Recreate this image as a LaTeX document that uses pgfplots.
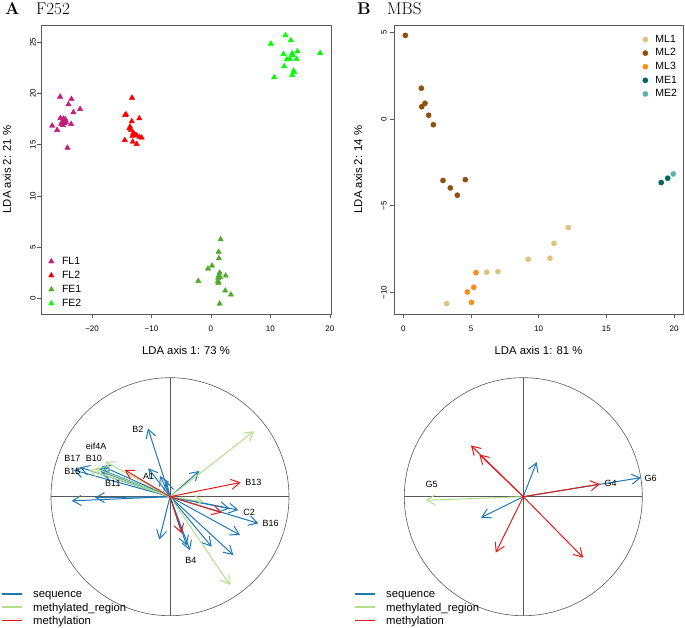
\documentclass[border=0pt]{standalone}
\usepackage{fontspec}
\usepackage{pgfplots}
\pgfplotsset{compat=1.18}
\usetikzlibrary{arrows.meta}
\newfontfamily\arial{Liberation Sans}
\definecolor{seqc}{HTML}{1F78B4}
\definecolor{regc}{HTML}{B2DF8A}
\definecolor{methc}{HTML}{E31A1C}
\definecolor{FLa}{HTML}{C51B7D}
\definecolor{FLb}{HTML}{FF0000}
\definecolor{FEa}{HTML}{4DAC26}
\definecolor{FEb}{HTML}{00FF00}
\definecolor{MLa}{HTML}{DFC27D}
\definecolor{MLb}{HTML}{8C510A}
\definecolor{MLc}{HTML}{FA8C1E}
\definecolor{MEa}{HTML}{01665E}
\definecolor{MEb}{HTML}{5AB4AC}
\tikzset{lab/.style={font=\arial\fontsize{9}{10}\selectfont, inner sep=0pt},
  legtxt/.style={font=\arial\fontsize{11.3}{13}\selectfont, inner sep=0pt, anchor=base west}}
\pgfplotsset{
  rbox/.style={
    scale only axis,
    axis line style={black!65, line width=0.6pt},
    tick style={black!65, line width=0.6pt},
    tick align=outside,
    major tick length=4pt,
    xtick pos=left, ytick pos=left,
    /pgf/number format/assume math mode=true,
    xticklabel style={font=\arial\fontsize{8}{9}\selectfont, yshift=-4pt},
    yticklabel style={font=\arial\fontsize{8}{9}\selectfont, rotate=90, anchor=south},
    every axis label/.append style={font=\arial\fontsize{11.3}{13}\selectfont},
    clip=false,
    legend cell align=left,
  },
  ccirc/.style={
    scale only axis, width=238pt, height=238pt,
    xmin=-1, xmax=1, ymin=-1, ymax=1,
    axis lines=none, clip=false,
  },
  arr/.style={-{Straight Barb[length=8.5pt,width=10pt]}, line width=1pt},
}
\begin{document}
\begin{tikzpicture}
\useasboundingbox (0,0) rectangle (685pt,628pt);
% titles
\node[anchor=base west, inner sep=0pt] at (5pt,613pt) {\fontsize{17}{19}\selectfont\bfseries A};
\node[anchor=base west, inner sep=0pt] at (36pt,613pt) {\fontsize{17}{19}\selectfont F252};
\node[anchor=base west, inner sep=0pt] at (357pt,613pt) {\fontsize{17}{19}\selectfont\bfseries B};
\node[anchor=base west, inner sep=0pt] at (387pt,613pt) {\fontsize{17}{19}\selectfont MBS};

% ---------- Panel A scatter ----------
\begin{axis}[rbox, at={(41pt,314pt)}, anchor=south west, width=290pt, height=289pt,
  xmin=-28.6, xmax=20.2, ymin=-1.49, ymax=26.66,
  xtick={-20,-10,0,10,20}, xticklabels={−20,−10,0,10,20},
  ytick={0,5,10,15,20,25}, yticklabels={0,5,10,15,20,25},
  yticklabel style={inner sep=1pt},
  xlabel={LDA axis 1: 73 \%}, ylabel={LDA axis 2: 21 \%},
  xlabel style={at={(axis description cs:0.5,-0.127)}, anchor=center},
  ylabel style={at={(axis description cs:-0.118,0.5)}, anchor=center},
  legend style={at={(0.0257,0.204)}, anchor=north west, draw=none, fill=none, inner sep=0pt,
    font=\arial\fontsize{10.5}{12}\selectfont, row sep=1.5pt, column sep=7pt,
    nodes={inner sep=1pt, text height=8pt, text depth=2.5pt}},
]
\addplot[only marks, mark=triangle*, mark size=3.1pt, color=FLa] table {
x y
-25.38 19.67
-23.48 19.45
-23.98 18.93
-23.14 18.15
-22.02 18.47
-25.33 17.60
-24.82 17.53
-24.49 17.47
-25.04 17.24
-24.71 17.08
-23.53 17.01
-24.92 16.91
-26.72 16.85
-25.88 16.43
-24.15 14.70
-24.37 17.20
-25.20 17.00
};
\addlegendentry{FL1}
\addplot[only marks, mark=triangle*, mark size=3.1pt, color=FLb] table {
x y
-13.28 19.57
-14.45 17.89
-14.29 17.95
-12.05 17.56
-13.33 17.27
-13.61 16.75
-13.45 16.43
-13.06 16.16
-12.89 16.00
-12.49 15.91
-12.05 15.75
-11.65 15.68
-14.50 15.45
-13.16 15.29
-12.49 15.06
-13.22 15.87
-13.73 16.59
-12.77 15.94
};
\addlegendentry{FL2}
\addplot[only marks, mark=triangle*, mark size=3.1pt, color=FEa] table {
x y
1.63 5.78
1.29 4.55
1.34 3.93
0.17 3.21
-0.50 2.92
-2.13 1.72
1.46 2.53
1.34 2.28
1.23 2.02
1.18 1.72
2.47 2.24
2.40 0.78
3.36 0.39
1.46 -0.49
1.26 1.53
1.51 2.11
};
\addlegendentry{FE1}
\addplot[only marks, mark=triangle*, mark size=3.1pt, color=FEb] table {
x y
12.55 25.65
10.08 24.83
13.45 25.16
12.22 23.83
13.66 23.89
14.57 24.09
14.40 23.34
13.28 23.37
12.77 23.31
13.73 23.70
18.37 23.92
12.32 22.63
13.90 22.20
14.00 22.07
13.66 21.78
10.64 21.56
};
\addlegendentry{FE2}
\end{axis}

% ---------- Panel B scatter ----------
\begin{axis}[rbox, at={(394pt,314pt)}, anchor=south west, width=289pt, height=289pt,
  xmin=-0.69, xmax=20.66, ymin=-11.25, ymax=5.44,
  xtick={0,5,10,15,20}, xticklabels={0,5,10,15,20},
  ytick={-10,-5,0,5}, yticklabels={−10,−5,0,5},
  yticklabel style={inner sep=3pt},
  xlabel={LDA axis 1: 81 \%}, ylabel={LDA axis 2: 14 \%},
  xlabel style={at={(axis description cs:0.5,-0.127)}, anchor=center},
  ylabel style={at={(axis description cs:-0.1246,0.5)}, anchor=center},
  legend style={at={(0.860,0.972)}, anchor=north west, draw=none, fill=none, inner sep=0pt,
    font=\arial\fontsize{10.5}{12}\selectfont, row sep=1.1pt, column sep=6.5pt,
    nodes={inner sep=1pt, text height=8pt, text depth=2.5pt}},
]
\addplot[only marks, mark=*, mark size=2.6pt, color=MLa] table {
x y
3.20 -10.65
6.16 -8.84
6.99 -8.80
9.23 -8.09
10.83 -8.03
11.13 -7.17
12.19 -6.26
};
\addlegendentry{ML1}
\addplot[only marks, mark=*, mark size=2.6pt, color=MLb] table {
x y
0.15 4.84
1.33 1.79
1.36 0.72
1.60 0.92
1.87 0.23
2.22 -0.32
2.93 -3.54
3.47 -3.97
3.99 -4.39
4.58 -3.49
};
\addlegendentry{ML2}
\addplot[only marks, mark=*, mark size=2.6pt, color=MLc] table {
x y
5.37 -8.86
4.73 -9.98
5.20 -9.71
5.03 -10.58
};
\addlegendentry{ML3}
\addplot[only marks, mark=*, mark size=2.6pt, color=MEa] table {
x y
19.05 -3.66
19.53 -3.41
};
\addlegendentry{ME1}
\addplot[only marks, mark=*, mark size=2.6pt, color=MEb] table {
x y
19.94 -3.16
};
\addlegendentry{ME2}
\end{axis}

% ---------- Panel A correlation circle ----------
\begin{axis}[ccirc, at={(51pt,12.3pt)}, anchor=south west]
\draw[black!65, line width=0.6pt] (axis cs:0,0) circle [radius=1];
\addplot[black!65, line width=0.6pt, forget plot] coordinates {(-1,0) (1,0)};
\addplot[black!65, line width=0.6pt, forget plot] coordinates {(0,-1) (0,1)};
\addplot[seqc, arr, forget plot, quiver={u=\thisrow{u}, v=\thisrow{v}}] table {
x y u v
0 0 -0.185 0.573
0 0 -0.182 0.239
0 0 -0.084 0.175
0 0 -0.030 0.130
0 0 -0.826 -0.035
0 0 -0.630 -0.008
0 0 -0.756 0.247
0 0 -0.810 0.224
0 0 -0.574 0.258
0 0 -0.574 0.210
0 0 -0.600 0.235
0 0 -0.090 -0.360
0 0 0.168 -0.450
0 0 0.140 -0.410
0 0 0.246 0.216
0 0 0.574 -0.112
0 0 0.500 -0.100
0 0 0.742 -0.224
0 0 0.588 -0.322
0 0 0.532 -0.490
0 0 0.350 -0.420
};
\addplot[regc, arr, forget plot, quiver={u=\thisrow{u}, v=\thisrow{v}}] table {
x y u v
0 0 0.706 0.550
0 0 0.504 -0.742
0 0 0.280 -0.042
0 0 -0.546 0.294
0 0 -0.630 0.239
0 0 -0.680 0.225
};
\addplot[methc, arr, forget plot, quiver={u=\thisrow{u}, v=\thisrow{v}}] table {
x y u v
0 0 0.594 0.120
0 0 0.434 -0.134
0 0 0.098 -0.308
0 0 -0.380 0.225
};
\node[lab] at (axis cs:-0.27,0.57) {B2};
\node[lab] at (axis cs:-0.62,0.42) {eif4A};
\node[lab] at (axis cs:-0.64,0.32) {B10};
\node[lab] at (axis cs:-0.82,0.32) {B17};
\node[lab] at (axis cs:-0.82,0.21) {B15};
\node[lab] at (axis cs:-0.48,0.11) {B11};
\node[lab] at (axis cs:-0.18,0.17) {A1};
\node[lab] at (axis cs:0.70,0.12) {B13};
\node[lab] at (axis cs:0.665,-0.13) {C2};
\node[lab] at (axis cs:0.845,-0.225) {B16};
\node[lab] at (axis cs:0.175,-0.535) {B4};
\end{axis}

% ---------- Panel B correlation circle ----------
\begin{axis}[ccirc, at={(404.3pt,12.3pt)}, anchor=south west]
\draw[black!65, line width=0.6pt] (axis cs:0,0) circle [radius=1];
\addplot[black!65, line width=0.6pt, forget plot] coordinates {(-1,0) (1,0)};
\addplot[black!65, line width=0.6pt, forget plot] coordinates {(0,-1) (0,1)};
\addplot[seqc, arr, forget plot, quiver={u=\thisrow{u}, v=\thisrow{v}}] table {
x y u v
0 0 0.989 0.160
0 0 0.112 0.291
0 0 -0.356 -0.176
};
\addplot[regc, arr, forget plot, quiver={u=\thisrow{u}, v=\thisrow{v}}] table {
x y u v
0 0 -0.820 -0.030
};
\addplot[methc, arr, forget plot, quiver={u=\thisrow{u}, v=\thisrow{v}}] table {
x y u v
0 0 0.644 0.106
0 0 -0.440 0.431
0 0 -0.370 0.355
0 0 -0.232 -0.470
0 0 0.504 -0.513
};
\node[lab] at (axis cs:-0.77,0.104) {G5};
\node[lab] at (axis cs:0.734,0.115) {G4};
\node[lab] at (axis cs:1.07,0.157) {G6};
\end{axis}

% ---------- bottom legends ----------
\foreach \xo/\xt in {2/33, 355/386} {
  \fill[seqc] (\xo pt,33.2pt) rectangle ++(20pt,1.6pt);
  \fill[regc] (\xo pt,19.9pt) rectangle ++(20pt,1.6pt);
  \fill[methc] (\xo pt,6.5pt) rectangle ++(20pt,1.6pt);
  \node[legtxt] at (\xt pt,30pt) {sequence};
  \node[legtxt] at (\xt pt,16.7pt) {methylated\_region};
  \node[legtxt] at (\xt pt,3.3pt) {methylation};
}
\end{tikzpicture}
\end{document}
